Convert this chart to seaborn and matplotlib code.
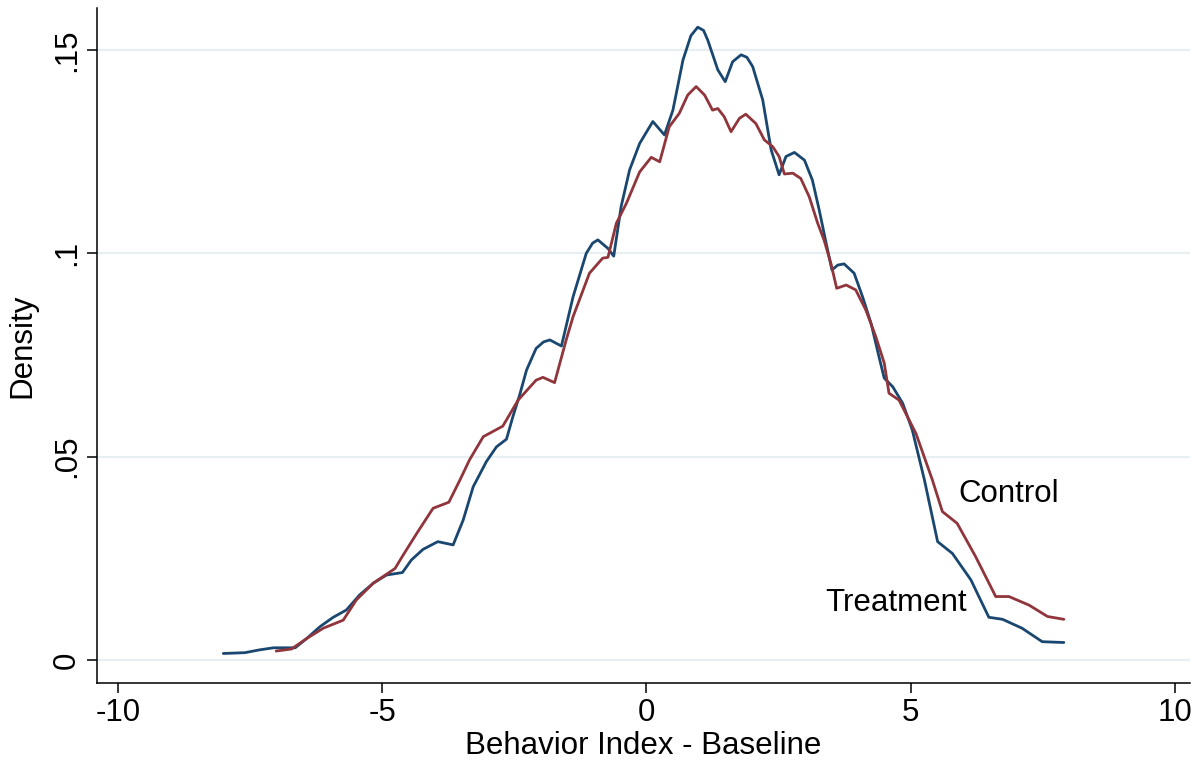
import matplotlib
matplotlib.use("Agg")
import matplotlib.pyplot as plt
import seaborn as sns
import pandas as pd

treat_x = [-8.01, -7.60, -7.32, -7.06, -6.65, -6.43, -6.18, -5.93, -5.68, -5.43, -5.17, -4.92,
           -4.62, -4.45, -4.23, -3.95, -3.66, -3.47, -3.28, -3.03, -2.84, -2.65, -2.53, -2.40,
           -2.27, -2.09, -1.95, -1.83, -1.61, -1.39, -1.14, -1.02, -0.92, -0.73, -0.62, -0.48, -0.32, -0.13,
           0.12, 0.34, 0.50, 0.69, 0.84, 0.97, 1.08, 1.16, 1.35, 1.49, 1.63, 1.79, 1.90, 2.01, 2.20, 2.36, 2.51,
           2.64, 2.80, 2.99, 3.14, 3.27, 3.40, 3.51, 3.62, 3.74, 3.93, 4.09, 4.25, 4.40, 4.50,
           4.66, 4.85, 5.03, 5.26, 5.51, 5.79, 6.14, 6.48, 6.74, 7.11, 7.49, 7.90]
treat_y = [0.0016, 0.0018, 0.0025, 0.0030, 0.0030, 0.0053, 0.0082, 0.0105, 0.0123, 0.0160, 0.0189, 0.0209,
           0.0215, 0.0246, 0.0272, 0.0291, 0.0283, 0.0344, 0.0426, 0.0488, 0.0524, 0.0543, 0.0598, 0.0652,
           0.0713, 0.0766, 0.0782, 0.0787, 0.0772, 0.0893, 0.1000, 0.1025, 0.1033, 0.1012, 0.0993, 0.1115, 0.1205, 0.1270,
           0.1324, 0.1291, 0.1352, 0.1475, 0.1535, 0.1556, 0.1548, 0.1524, 0.1451, 0.1422, 0.1471, 0.1488, 0.1482, 0.1459, 0.1377, 0.1254, 0.1193,
           0.1238, 0.1248, 0.1229, 0.1180, 0.1106, 0.1025, 0.0959, 0.0971, 0.0974, 0.0951, 0.0893, 0.0828, 0.0746, 0.0693,
           0.0672, 0.0631, 0.0566, 0.0443, 0.0291, 0.0262, 0.0197, 0.0105, 0.0100, 0.0078, 0.0045, 0.0043]

ctrl_x = [-7.01, -6.72, -6.43, -6.12, -5.74, -5.49, -5.17, -4.76, -4.62, -4.35, -4.04, -3.74,
          -3.53, -3.35, -3.09, -2.72, -2.43, -2.09, -1.96, -1.74, -1.52, -1.39, -1.08, -0.83,
          -0.73, -0.57, -0.38, -0.13, 0.09, 0.25, 0.43, 0.62, 0.78, 0.94, 1.10, 1.25, 1.35,
          1.47, 1.60, 1.76, 1.88, 2.07, 2.23, 2.39, 2.51, 2.61, 2.77, 2.92, 3.08, 3.24, 3.36,
          3.49, 3.60, 3.78, 3.96, 4.15, 4.34, 4.50, 4.59, 4.78, 5.10, 5.41, 5.60, 5.88, 6.23,
          6.61, 6.86, 7.24, 7.59, 7.90]
ctrl_y = [0.0022, 0.0027, 0.0053, 0.0078, 0.0098, 0.0148, 0.0189, 0.0225, 0.0255, 0.0311, 0.0373, 0.0388,
          0.0443, 0.0492, 0.0549, 0.0575, 0.0639, 0.0688, 0.0695, 0.0682, 0.0787, 0.0844, 0.0951, 0.0988,
          0.0990, 0.1074, 0.1123, 0.1200, 0.1236, 0.1225, 0.1311, 0.1344, 0.1389, 0.1410, 0.1389, 0.1352, 0.1356,
          0.1336, 0.1299, 0.1332, 0.1342, 0.1319, 0.1279, 0.1262, 0.1238, 0.1195, 0.1197, 0.1184, 0.1139, 0.1074, 0.1033,
          0.0975, 0.0914, 0.0922, 0.0910, 0.0861, 0.0795, 0.0730, 0.0656, 0.0639, 0.0557, 0.0443, 0.0365, 0.0336, 0.0254,
          0.0156, 0.0156, 0.0135, 0.0107, 0.0100]

groups = ["Treatment", "Control"]
x_ticks = [-10, -5, 0, 5, 10]
x_tick_labels = ["-10", "-5", "0", "5", "10"]
y_ticks = [0, 0.05, 0.1, 0.15]
y_tick_labels = ["0", ".05", ".1", ".15"]
x_label = "Behavior Index - Baseline"
y_label = "Density"

df = pd.concat([
    pd.DataFrame({"x": treat_x, "density": treat_y, "group": groups[0]}),
    pd.DataFrame({"x": ctrl_x, "density": ctrl_y, "group": groups[1]}),
], ignore_index=True)

sns.set_style("white")
plt.rcParams["font.family"] = ["Liberation Sans", "DejaVu Sans"]

fig = plt.figure(figsize=(11.98, 7.67), dpi=100)
ax = fig.add_axes([0.081, 0.1095, 0.912, 0.88])

palette = {"Treatment": "#1a476f", "Control": "#90353b"}
sns.lineplot(data=df, x="x", y="density", hue="group", palette=palette,
             linewidth=2.0, sort=False, estimator=None, legend=False, ax=ax)

ax.set_xlim(-10.4, 10.28)
ax.set_ylim(-0.00566, 0.1603)
ax.set_xticks(x_ticks)
ax.set_xticklabels(x_tick_labels)
ax.set_yticks(y_ticks)
ax.set_yticklabels(y_tick_labels, rotation=90, va="center")
ax.grid(axis="y", color="#e8eff2", linewidth=1.6)
ax.set_axisbelow(True)
ax.tick_params(axis="both", which="major", direction="out", length=7, width=1.1,
               labelsize=22.5, color="black", labelcolor="black",
               left=True, bottom=True, pad=4)

for side in ["top", "right"]:
    ax.spines[side].set_visible(False)
for side in ["left", "bottom"]:
    ax.spines[side].set_color("black")
    ax.spines[side].set_linewidth(1.1)

ax.set_xlabel(x_label, fontsize=22.5, labelpad=2, color="black")
ax.set_ylabel(y_label, fontsize=22.5, labelpad=10, color="black")

ax.text(6.86, 0.0408, "Control", fontsize=22.5, ha="center", va="center", color="black")
ax.text(4.73, 0.0140, "Treatment", fontsize=22.5, ha="center", va="center", color="black")

fig.savefig("out.png", dpi=100)
